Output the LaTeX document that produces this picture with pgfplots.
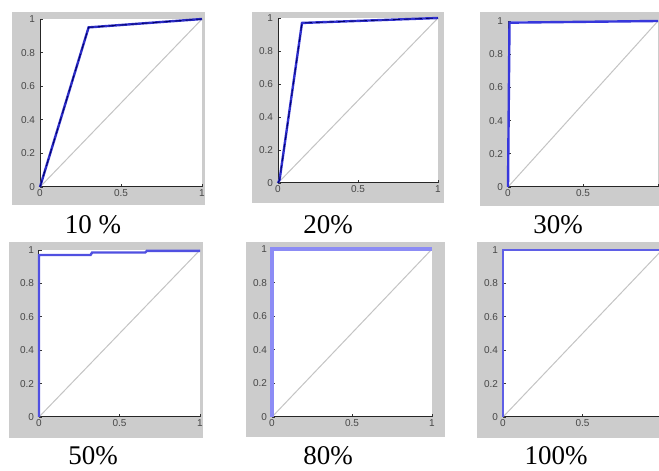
\documentclass[border=0pt]{standalone}
\usepackage{fontspec}
\setmainfont{Liberation Serif}
\newfontfamily\ticksf{Liberation Sans}
\usepackage{pgfplots}
\pgfplotsset{compat=1.18}
\definecolor{figgray}{RGB}{204,204,204}
\definecolor{diag}{RGB}{196,196,196}
\definecolor{bA}{RGB}{45,45,200}
\definecolor{bB}{RGB}{50,50,210}
\definecolor{bC}{RGB}{55,55,220}
\definecolor{bD}{RGB}{80,80,225}
\definecolor{bE}{RGB}{140,140,245}
\definecolor{bF}{RGB}{95,95,230}
\pgfplotsset{rocpanel/.style={
  scale only axis, xmin=0, xmax=1, ymin=0, ymax=1,
  axis x line*=bottom, axis y line*=left,
  axis line style={-, draw=black!85, line width=1pt},
  xtick={0,0.5,1}, ytick={0,0.2,0.4,0.6,0.8,1},
  tick align=inside, major tick length=3pt,
  tick style={black!80, line width=0.7pt},
  ticklabel style={font=\ticksf\fontsize{10}{11}\selectfont, text=black!72},
  xticklabel style={yshift=1pt},
  yticklabel style={xshift=-1.5pt},
  /pgf/number format/assume math mode=true,
  anchor=south west, clip=false,
  axis background/.style={fill=white},
}}
\begin{document}
\begin{tikzpicture}
\clip (0pt,0pt) rectangle (659pt,471pt);
\fill[white] (0pt,0pt) rectangle (659pt,471pt);
% figure backgrounds
\fill[figgray] (12pt,266pt) rectangle (205pt,459pt);
\fill[figgray] (252pt,268pt) rectangle (444pt,459pt);
\fill[figgray] (480pt,265pt) rectangle (659pt,459pt);
\fill[figgray] (9pt,33pt) rectangle (203pt,229pt);
\fill[figgray] (246pt,34pt) rectangle (445pt,229pt);
\fill[figgray] (477pt,33pt) rectangle (659pt,229pt);

% 10 %
\begin{axis}[rocpanel, at={(40pt,284pt)}, width=162pt, height=168pt]
\addplot[diag, line width=1pt] coordinates {(0,0) (1,1)};
\addplot[bA, line width=2.4pt] coordinates {(0,0) (0.30,0.95) (1,1)};
\addplot[black!60!blue, line width=0.8pt, dash pattern=on 7pt off 4pt] coordinates {(0,0) (0.30,0.95) (1,1)};
\end{axis}
% 20%
\begin{axis}[rocpanel, at={(278pt,288pt)}, width=160pt, height=165pt]
\addplot[diag, line width=1pt] coordinates {(0,0) (1,1)};
\addplot[bB, line width=2.4pt] coordinates {(0,0) (0.01,0.02) (0.15,0.97) (1,1)};
\addplot[black!60!blue, line width=0.8pt, dash pattern=on 7pt off 4pt] coordinates {(0,0) (0.01,0.02) (0.15,0.97) (1,1)};
\end{axis}
% 30%
\begin{axis}[rocpanel, at={(508pt,284pt)}, width=150pt, height=166pt, xticklabels={0,0.5,}]
\addplot[diag, line width=1pt] coordinates {(0,0) (1,1)};
\addplot[bC, line width=2.4pt] coordinates {(0,0) (0.01,0.99) (1,1)};
\end{axis}
% 50%
\begin{axis}[rocpanel, at={(39pt,54pt)}, width=161pt, height=167pt]
\addplot[diag, line width=1pt] coordinates {(0,0) (1,1)};
\addplot[bD, line width=2.4pt] coordinates {(0,0) (0,0.97) (0.32,0.97) (0.33,0.985) (0.66,0.985) (0.67,0.995) (1,0.995)};
\end{axis}
% 80%
\begin{axis}[rocpanel, at={(272pt,54pt)}, width=160pt, height=168pt]
\addplot[diag, line width=1pt] coordinates {(0,0) (1,1)};
\addplot[bE, line width=3.2pt] coordinates {(0,0) (0,1) (1,1)};
\end{axis}
% 100%
\begin{axis}[rocpanel, at={(503pt,54pt)}, width=159pt, height=167pt, xticklabels={0,0.5,}]
\addplot[diag, line width=1pt] coordinates {(0,0) (1,1)};
\addplot[bF, line width=2.4pt] coordinates {(0,0) (0,1) (1,1)};
\end{axis}

% captions
\begin{scope}[every node/.style={anchor=base, inner sep=0pt, font=\fontsize{27}{30}\selectfont}]
\node at (93pt,237pt) {10 \%};
\node at (328pt,237pt) {20\%};
\node at (558pt,237pt) {30\%};
\node at (93pt,6pt) {50\%};
\node at (328pt,6pt) {80\%};
\node at (556pt,6pt) {100\%};
\end{scope}
\end{tikzpicture}
\end{document}
